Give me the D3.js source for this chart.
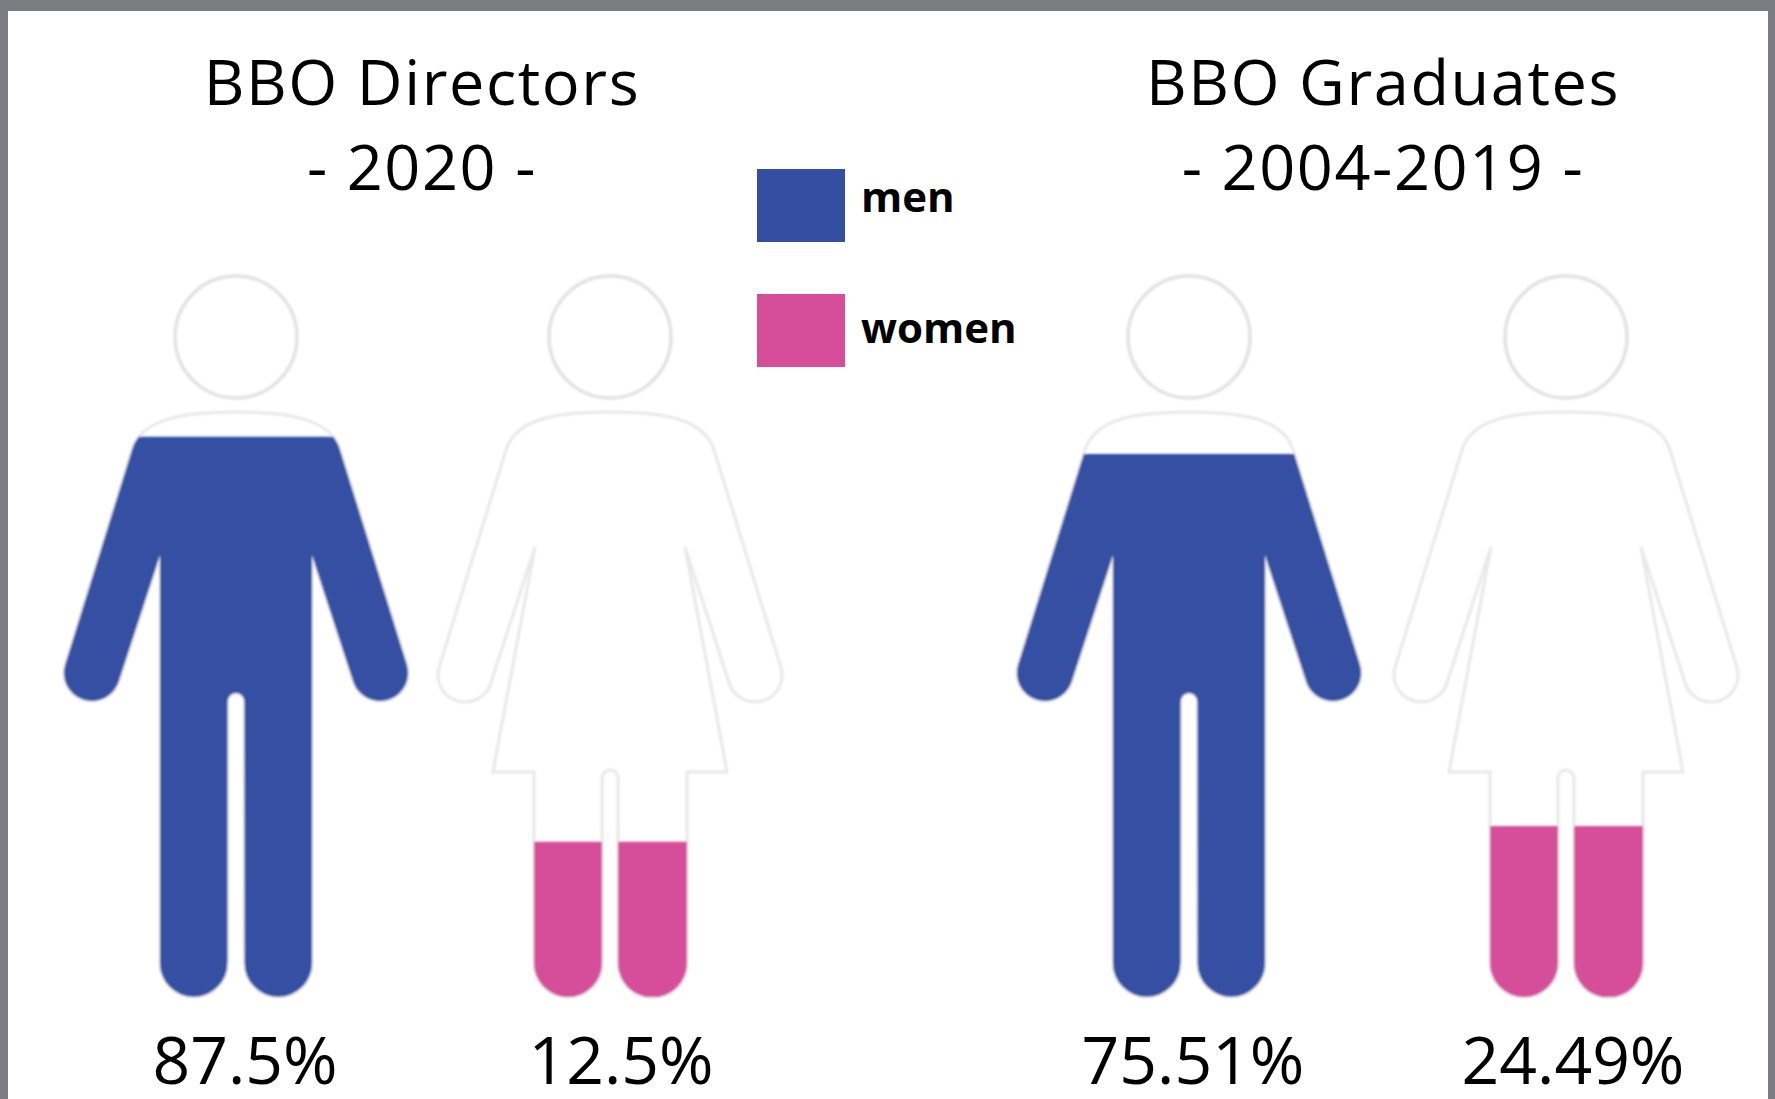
<!DOCTYPE html>
<html>
<head>
<meta charset="utf-8">
<script src="https://cdn.jsdelivr.net/npm/d3@7"></script>
<style>
  html, body { margin: 0; padding: 0; background: #fff; }
  svg { display: block; }
  text { font-family: "Open Sans", sans-serif; fill: #000; }
</style>
</head>
<body>
<svg width="1775" height="1099"></svg>
<script>
/* pictogram chart: men / women share */

// DATA ////////////////////////////////////////////////////////////////////////
const groups = ['BBO Directors', 'BBO Graduates'];
const periods = ['- 2020 -', '- 2004-2019 -'];
const categories = ['men', 'women'];
const shareLabels = [['87.5%', '12.5%'], ['75.51%', '24.49%']];
// how high the colour really reaches in each figure, in % of figure height
const fillLevels = [[77.6, 21.5], [75.2, 23.7]];

// SET PARAMETERS //////////////////////////////////////////////////////////////
const svg = d3.select('svg');
const width = +svg.attr('width');
const height = +svg.attr('height');

const colour = d3.scaleOrdinal().domain(categories).range(['#344fa2', '#d64d9a']);
const y = d3.scaleLinear().domain([0, 100]).range([997, 275]);
const legendY = d3.scalePoint().domain(categories).range([169, 294]);
const legendTextY = d3.scalePoint().domain(categories).range([212, 343]);

const figureX = [[236, 610], [1189, 1566]];
const titleX = [422, 1383];
const labelX = [[245, 621], [1193, 1573]];

// FIGURE OUTLINES (drawn around x = 0, y in page pixels) //////////////////////
function manBody() {
  const p = d3.path();
  p.moveTo(0, 412);
  p.bezierCurveTo(50, 412, 92, 418, 103, 447);
  p.lineTo(170.8, 664.7);
  p.arc(144, 673, 28, -0.3, 2.79, false);
  p.lineTo(76, 555);
  p.lineTo(76, 963);
  p.arc(42.3, 963, 33.7, 0, Math.PI, false);
  p.lineTo(8.5, 701.5);
  p.arc(0, 701.5, 8.5, 0, Math.PI, true);
  p.lineTo(-8.5, 963);
  p.arc(-42.3, 963, 33.7, 0, Math.PI, false);
  p.lineTo(-76, 555);
  p.lineTo(-117.7, 682.6);
  p.arc(-144, 673, 28, 0.35, 3.44, false);
  p.lineTo(-103, 447);
  p.bezierCurveTo(-92, 418, -50, 412, 0, 412);
  p.closePath();
  return p.toString();
}

function womanBody() {
  const p = d3.path();
  p.moveTo(0, 412);
  p.bezierCurveTo(52, 412, 94, 418, 104, 450);
  p.lineTo(170.8, 667);
  p.arc(145, 675, 27, -0.3, 2.84, false);
  p.lineTo(75, 547);
  p.lineTo(113, 750);
  p.lineTo(117, 772);
  p.lineTo(77, 772);
  p.lineTo(77, 963);
  p.arc(42.5, 963, 34.5, 0, Math.PI, false);
  p.lineTo(8, 778);
  p.arc(0, 778, 8, 0, Math.PI, true);
  p.lineTo(-8, 963);
  p.arc(-42, 963, 34, 0, Math.PI, false);
  p.lineTo(-76, 772);
  p.lineTo(-117, 772);
  p.lineTo(-113, 750);
  p.lineTo(-75, 547);
  p.lineTo(-119.2, 683);
  p.arc(-145, 675, 27, 0.3, 3.44, false);
  p.lineTo(-104, 450);
  p.bezierCurveTo(-94, 418, -52, 412, 0, 412);
  p.closePath();
  return p.toString();
}

const bodies = { men: manBody(), women: womanBody() };

// DRAW ////////////////////////////////////////////////////////////////////////
const defs = svg.append('defs');
defs
  .append('filter')
  .attr('id', 'soft')
  .append('feGaussianBlur')
  .attr('stdDeviation', 0.9);

// page background and the grey frame of the screenshot
svg.append('rect').attr('width', width).attr('height', height).attr('fill', '#7a7d82');
svg
  .append('rect')
  .attr('x', 8)
  .attr('y', 11)
  .attr('width', width - 8 - 7)
  .attr('height', height - 11)
  .attr('fill', '#fff');

const group = svg
  .selectAll('.group')
  .data(groups)
  .enter()
  .append('g')
  .attr('class', 'group');

group
  .append('text')
  .attr('x', (d, i) => titleX[i])
  .attr('y', 105)
  .attr('text-anchor', 'middle')
  .style('font-size', '63px')
  .style('letter-spacing', '1.6px')
  .text(d => d);

group
  .append('text')
  .attr('x', (d, i) => titleX[i])
  .attr('y', 190)
  .attr('text-anchor', 'middle')
  .style('font-size', '63px')
  .style('letter-spacing', '1.6px')
  .text((d, i) => periods[i]);

group.each(function(d, i) {
  const figure = d3
    .select(this)
    .selectAll('.figure')
    .data(categories)
    .enter()
    .append('g')
    .attr('class', 'figure')
    .attr('transform', (c, j) => `translate(${figureX[i][j]},0)`);

  figure
    .append('clipPath')
    .attr('id', (c, j) => `clip-${i}-${j}`)
    .append('rect')
    .attr('x', -200)
    .attr('width', 400)
    .attr('y', (c, j) => y(fillLevels[i][j]))
    .attr('height', (c, j) => y(0) - y(fillLevels[i][j]));

  const art = figure.append('g').attr('filter', 'url(#soft)');

  art
    .append('circle')
    .attr('cy', 337)
    .attr('r', 61)
    .attr('fill', 'none')
    .attr('stroke', '#e3e1e1')
    .attr('stroke-width', 3.5);

  art
    .append('path')
    .attr('d', c => bodies[c])
    .attr('fill', 'none')
    .attr('stroke', '#e8e8e8')
    .attr('stroke-width', 3);

  art
    .append('path')
    .attr('d', c => bodies[c])
    .attr('fill', c => colour(c))
    .attr('clip-path', (c, j) => `url(#clip-${i}-${j})`);

  figure
    .append('text')
    .attr('x', (c, j) => labelX[i][j] - figureX[i][j])
    .attr('y', 1084)
    .attr('text-anchor', 'middle')
    .style('font-size', '66px')
    .text((c, j) => shareLabels[i][j]);
});

// legend
const legend = svg
  .selectAll('.legend')
  .data(categories)
  .enter()
  .append('g')
  .attr('class', 'legend');

legend
  .append('rect')
  .attr('x', 757)
  .attr('y', d => legendY(d))
  .attr('width', 88)
  .attr('height', 73)
  .attr('fill', d => colour(d));

legend
  .append('text')
  .attr('x', 861)
  .attr('y', d => legendTextY(d))
  .style('font-size', '42px')
  .style('font-weight', 700)
  .text(d => d);
</script>
</body>
</html>
